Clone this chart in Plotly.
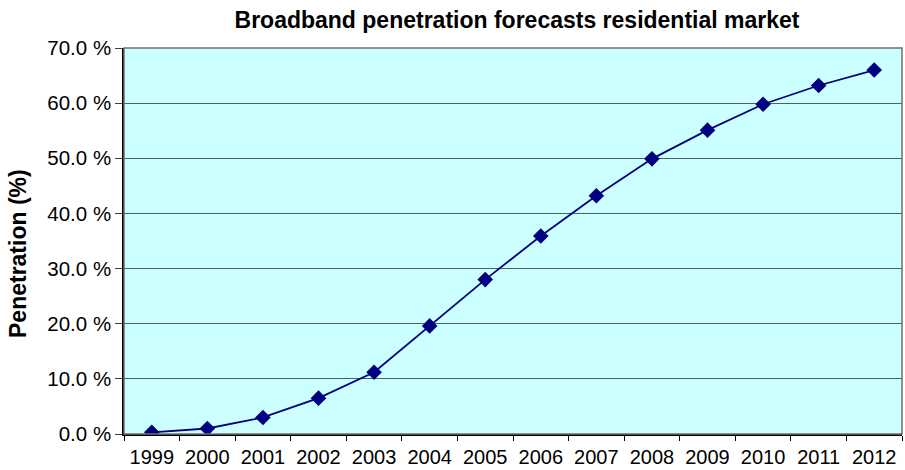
import plotly.graph_objects as go

years = ["1999", "2000", "2001", "2002", "2003", "2004", "2005",
         "2006", "2007", "2008", "2009", "2010", "2011", "2012"]
penetration = [0.3, 1.0, 3.0, 6.5, 11.2, 19.6, 28.0,
               35.9, 43.2, 49.9, 55.1, 59.8, 63.2, 66.0]

y_ticks = [0, 10, 20, 30, 40, 50, 60, 70]
y_tick_labels = [f"{v:.1f} %" for v in y_ticks]

fig = go.Figure()
fig.add_trace(go.Scatter(
    x=years,
    y=penetration,
    mode="lines+markers",
    line=dict(color="#000080", width=1.8),
    marker=dict(symbol="diamond", size=12, color="#000080"),
    showlegend=False,
))

font_family = "Liberation Sans, Arial, sans-serif"

fig.update_layout(
    width=905,
    height=470,
    margin=dict(l=124, r=3, t=48, b=36),
    paper_bgcolor="white",
    plot_bgcolor="#CCFFFF",
    font=dict(family=font_family, size=20, color="black"),
    title=dict(
        text="<b>Broadband penetration forecasts residential market</b>",
        x=517 / 905, xanchor="center",
        y=1 - 20 / 470, yanchor="middle",
        font=dict(size=23, family=font_family),
    ),
)

fig.update_xaxes(
    type="category",
    range=[-0.5, len(years) - 0.5],
    tickson="boundaries",
    ticks="outside",
    ticklen=5,
    tickcolor="black",
    showline=True,
    linecolor="black",
    linewidth=1.5,
    showgrid=False,
    mirror=False,
    tickfont=dict(size=20),
    ticklabelstandoff=4,
)

fig.update_yaxes(
    range=[0, 70],
    tickvals=y_ticks,
    ticktext=y_tick_labels,
    ticks="outside",
    ticklen=7,
    tickcolor="#444",
    showline=True,
    linecolor="black",
    linewidth=1.5,
    showgrid=True,
    gridcolor="#506060",
    gridwidth=1.4,
    zeroline=False,
    tickfont=dict(size=20.5),
)

# vertical axis title
fig.add_annotation(
    text="<b>Penetration (%)</b>",
    xref="paper", yref="paper",
    x=(18 - 124) / 778, y=(434 - 254) / 386,
    xanchor="center", yanchor="middle",
    textangle=-90, showarrow=False,
    font=dict(size=23, family=font_family),
)

# light frame on the right and top of the plotting area
fig.add_shape(type="rect", xref="paper", yref="paper", x0=0, x1=1, y0=0, y1=1,
              line=dict(color="#707070", width=1.5), layer="above")

fig.write_html("out.html")
